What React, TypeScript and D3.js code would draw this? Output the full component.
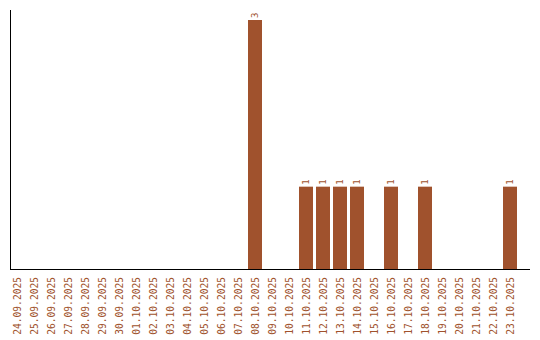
import React from "react";
import * as d3 from "d3";

const dates = [
  "24.09.2025","25.09.2025","26.09.2025","27.09.2025","28.09.2025","29.09.2025","30.09.2025",
  "01.10.2025","02.10.2025","03.10.2025","04.10.2025","05.10.2025","06.10.2025","07.10.2025",
  "08.10.2025","09.10.2025","10.10.2025","11.10.2025","12.10.2025","13.10.2025","14.10.2025",
  "15.10.2025","16.10.2025","17.10.2025","18.10.2025","19.10.2025","20.10.2025","21.10.2025",
  "22.10.2025","23.10.2025",
];
const counts = [
  0,0,0,0,0,0,0,
  0,0,0,0,0,0,0,
  3,0,0,1,1,1,1,
  0,1,0,1,0,0,0,
  0,1,
];

const COLOR = "#a0522d";
const FONT = "'DejaVu Sans Mono', monospace";

export default function App() {
  const W = 540, H = 340;
  const x = d3.scaleBand<string>().domain(dates).range([10, 517]).paddingInner(3 / 17).paddingOuter(0).align(0);
  const y = d3.scaleLinear().domain([0, 3]).range([270, 20]);
  return (
    <svg width={W} height={H} style={{ position: "absolute", left: 0, top: 0 }}>
      {dates.map((d, i) =>
        counts[i] > 0 ? (
          <g key={d}>
            <rect x={x(d)} y={y(counts[i])} width={x.bandwidth()} height={y(0) - y(counts[i])} fill={COLOR} />
            <text
              transform={`translate(${(x(d) as number) + x.bandwidth() / 2 + 3},${y(counts[i]) - 2}) rotate(-90)`}
              fontFamily={FONT}
              fontSize={9}
              fill={COLOR}
              textAnchor="start"
            >
              {counts[i]}
            </text>
          </g>
        ) : null
      )}
      <line x1={10.5} x2={10.5} y1={10} y2={270} stroke="#000" />
      <line x1={10} x2={530} y1={269.5} y2={269.5} stroke="#000" />
      {dates.map((d) => (
        <text
          key={"t" + d}
          transform={`translate(${(x(d) as number) + x.bandwidth() / 2 + 3.5},277) rotate(-90)`}
          fontFamily={FONT}
          fontSize={9.6}
          fill={COLOR}
          textAnchor="end"
        >
          {d}
        </text>
      ))}
    </svg>
  );
}
